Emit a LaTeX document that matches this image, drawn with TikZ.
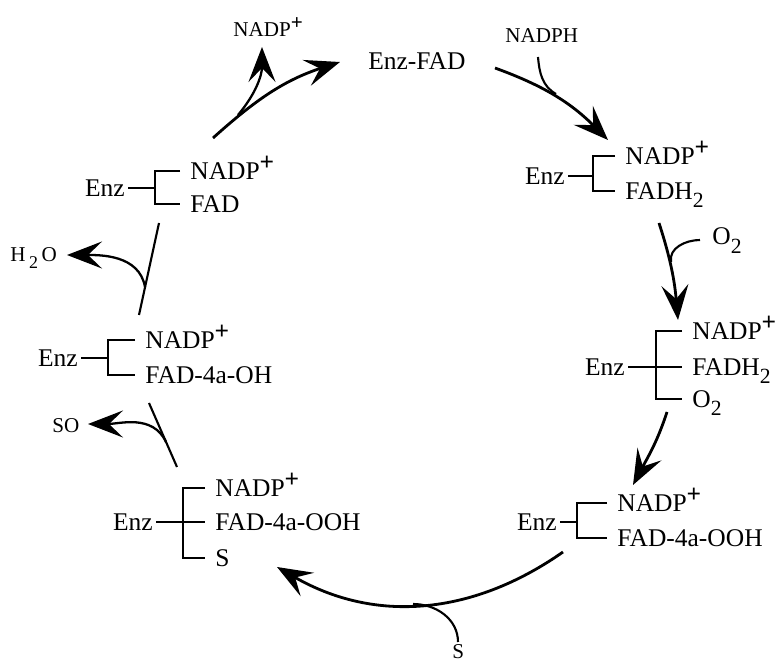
\documentclass[tikz,border=0pt]{standalone}
\usepackage{fontspec}
\setmainfont{Liberation Serif}
\usetikzlibrary{arrows.meta}

\newcommand{\mainsize}{\fontsize{14.5}{16}\selectfont}
\newcommand{\smallsize}{\fontsize{12}{14}\selectfont}
\newcommand{\nadp}{NADP\raisebox{0.36em}{\textbf{+}}}
\newcommand{\lowtwo}{\raisebox{-0.32em}{\scalebox{0.85}{2}}}

\begin{document}
\begin{tikzpicture}[x=0.2mm, y=0.2mm,
    spec/.style={anchor=west, inner xsep=2mm, inner ysep=0pt, text height=9.6pt, text depth=0pt, font=\mainsize},
    enz/.style={anchor=east, inner xsep=0.6mm, inner ysep=0pt, text height=9.6pt, text depth=0pt, font=\mainsize},
    lbl/.style={anchor=base west, inner sep=0pt, font=\smallsize},
    brk/.style={line width=1.4pt},
    rxn/.style={line width=1.6pt, -{Stealth[length=7mm, width=5.4mm, inset=2.8mm]}},
    side/.style={line width=1.2pt}]
    \useasboundingbox (0,0) rectangle (777,663);

    \node[lbl, font=\mainsize] (enzfad) at (368,593) {Enz-FAD};
    \node[lbl] (nadpout) at (233,626) {\nadp};
    \node[lbl] (nadph) at (505,620) {NADPH};
    \node[lbl, font=\mainsize] (o2in) at (712,418) {O\lowtwo};
    \node[lbl] (h2o) at (10,401) {H\,\lowtwo\,O};
    \node[lbl] (so) at (52,230) {SO};
    \node[lbl] (sin) at (452,4) {S};

    % Enz-NADP+ / FADH2
    \node[enz] (e1) at (568,487) {Enz};
    \node[spec] (e1a) at (615,507) {\nadp};
    \node[spec] (e1b) at (615,472) {FADH\lowtwo};
    \coordinate (b1) at (593,487);
    \draw[brk] (e1a.west) -| (b1) |- (e1b.west);
    \draw[brk] (e1) -- (b1);

    % Enz-NADP+ / FADH2 / O2
    \node[enz] (e2) at (628,296) {Enz};
    \node[spec] (e2a) at (682,332) {\nadp};
    \node[spec] (e2b) at (682,296) {FADH\lowtwo};
    \node[spec] (e2c) at (682,264) {O\lowtwo};
    \coordinate (b2) at (656,296);
    \draw[brk] (e2a.west) -| (b2) |- (e2c.west);
    \draw[brk] (e2) -- (e2b);

    % Enz-NADP+ / FAD-4a-OOH
    \node[enz] (e3) at (560,141) {Enz};
    \node[spec] (e3a) at (607,160) {\nadp};
    \node[spec] (e3b) at (607,125) {FAD-4a-OOH};
    \coordinate (b3) at (577,141);
    \draw[brk] (e3a.west) -| (b3) |- (e3b.west);
    \draw[brk] (e3) -- (b3);

    % Enz-NADP+ / FAD-4a-OOH / S
    \node[enz] (e4) at (156,141) {Enz};
    \node[spec] (e4a) at (205,175) {\nadp};
    \node[spec] (e4b) at (205,141) {FAD-4a-OOH};
    \node[spec] (e4c) at (205,105) {S};
    \coordinate (b4) at (183,141);
    \draw[brk] (e4a.west) -| (b4) |- (e4c.west);
    \draw[brk] (e4) -- (e4b);

    % Enz-NADP+ / FAD-4a-OH
    \node[enz] (e5) at (81,305) {Enz};
    \node[spec] (e5a) at (135,323) {\nadp};
    \node[spec] (e5b) at (135,288) {FAD-4a-OH};
    \coordinate (b5) at (108,305);
    \draw[brk] (e5a.west) -| (b5) |- (e5b.west);
    \draw[brk] (e5) -- (b5);

    % Enz-NADP+ / FAD
    \node[enz] (e6) at (128,475) {Enz};
    \node[spec] (e6a) at (180,492) {\nadp};
    \node[spec] (e6b) at (180,459) {FAD};
    \coordinate (b6) at (155,475);
    \draw[brk] (e6a.west) -| (b6) |- (e6b.west);
    \draw[brk] (e6) -- (b6);

    \coordinate (p1s) at (495,595);
    \coordinate (p1e) at (608,523);
    \coordinate (p1j) at (556,569);
    \coordinate (p1b) at (538,606);
    \draw[rxn] (p1s) to[out=-20, in=135] (p1e);
    \draw[side] (p1b) to[out=-85, in=150] (p1j);

    \coordinate (p2s) at (659,440);
    \coordinate (p2e) at (678,343);
    \coordinate (p2j) at (671,401);
    \coordinate (p2b) at (700,423);
    \draw[rxn] (p2s) to[out=-72, in=95] (p2e);
    \draw[side] (p2b) to[out=180, in=100] (p2j);

    \coordinate (p3s) at (667,251);
    \coordinate (p3e) at (633,178);
    \draw[rxn] (p3s) to[out=-108, in=62] (p3e);

    \coordinate (p4s) at (563,111);
    \coordinate (p4e) at (277,96);
    \coordinate (p4j) at (413,59);
    \coordinate (p4b) at (458,21);
    \draw[rxn] (p4s) to[out=215, in=-30] (p4e);
    \draw[side] (p4b) to[out=90, in=0] (p4j);

    \coordinate (p5s) at (177,196);
    \coordinate (p5e) at (149,260);
    \coordinate (p5j) at (166,221);
    \coordinate (p5b) at (88,239);
    \draw[side] (p5s) -- (p5e);
    \draw[rxn, line width=1.3pt] (p5j) to[out=115, in=0] (p5b);

    \coordinate (p6s) at (139,348);
    \coordinate (p6e) at (159,440);
    \coordinate (p6j) at (145,376);
    \coordinate (p6b) at (67,408);
    \draw[side] (p6s) -- (p6e);
    \draw[rxn, line width=1.3pt] (p6j) to[out=100, in=0] (p6b);

    \coordinate (p7s) at (213,525);
    \coordinate (p7e) at (340,601);
    \coordinate (p7j) at (238,548);
    \coordinate (p7b) at (262,616);
    \draw[rxn] (p7s) to[out=42, in=198] (p7e);
    \draw[rxn, line width=1.3pt] (p7j) to[out=50, in=-90] (p7b);
\end{tikzpicture}
\end{document}
